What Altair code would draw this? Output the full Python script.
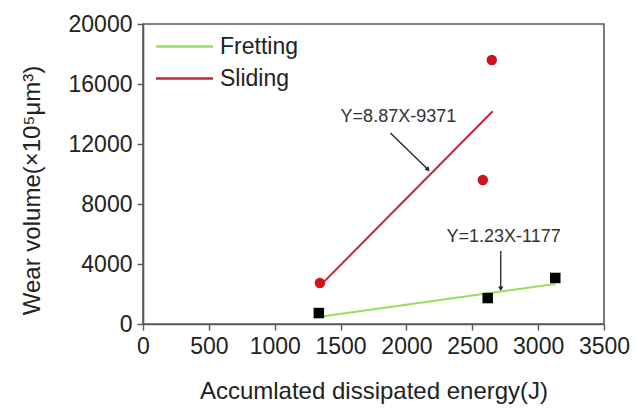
import altair as alt
import pandas as pd

# measured points
pt_series = ["Sliding", "Sliding", "Sliding", "Fretting", "Fretting", "Fretting"]
pt_energy = [1343, 2580, 2648, 1335, 2617, 3130]
pt_wear = [2730, 9600, 17600, 730, 1730, 3070]

# fitted lines (end points)
fit_series = ["Fretting", "Fretting", "Sliding", "Sliding"]
fit_energy = [1343, 3130, 1343, 2655]
fit_wear = [480, 2670, 2540, 14180]

# equation labels and arrows
eq_text = ["Y=8.87X-9371", "Y=1.23X-1177"]
eq_x = [1939, 2738]
eq_y = [13800, 5800]
arr_x1 = [1878, 2716]
arr_y1 = [12730, 4870]
arr_x2 = [2160, 2716]
arr_y2 = [10330, 2400]
arr_angle = [135, 180]

x_ticks = list(range(0, 3501, 250))
y_ticks = list(range(0, 20001, 2000))

FONT = "Liberation Sans"
TXT = "#222222"
AX = "#5a5a5a"

pts = pd.DataFrame({"series": pt_series, "energy": pt_energy, "wear": pt_wear})
fits = pd.DataFrame({"series": fit_series, "energy": fit_energy, "wear": fit_wear})
ann = pd.DataFrame({"text": eq_text, "x": eq_x, "y": eq_y})
arr = pd.DataFrame({"x1": arr_x1, "y1": arr_y1, "x2": arr_x2, "y2": arr_y2, "angle": arr_angle})

xscale = alt.Scale(domain=[0, 3500], nice=False, zero=False)
yscale = alt.Scale(domain=[0, 20000], nice=False, zero=False)

xaxis = alt.Axis(
    values=x_ticks,
    labelExpr="datum.value % 500 === 0 ? datum.label : ''",
    format="d",
    grid=False,
    tickSize={"condition": {"test": "datum.value % 500 === 0", "value": 6}, "value": 3},
    labelOverlap=False,
    labelFlush=False,
    labelPadding=5,
    titleY=67,
    titleBaseline="middle",
)
yaxis = alt.Axis(
    values=y_ticks,
    labelExpr="datum.value % 4000 === 0 ? datum.label : ''",
    format="d",
    grid=False,
    tickSize={"condition": {"test": "datum.value % 4000 === 0", "value": 6}, "value": 3},
    labelOverlap=False,
    labelFlush=False,
    labelPadding=5,
    titleX=-111,
    titleY=166,
    titleBaseline="middle",
    titleAngle=270,
)

lines = alt.Chart(fits).mark_line(strokeWidth=2).encode(
    x=alt.X("energy:Q", scale=xscale, axis=xaxis, title="Accumlated dissipated energy(J)"),
    y=alt.Y("wear:Q", scale=yscale, axis=yaxis, title="Wear volume(×10⁵μm³)"),
    color=alt.Color(
        "series:N",
        scale=alt.Scale(domain=["Fretting", "Sliding"], range=["#96e05a", "#c0283a"]),
        legend=alt.Legend(
            title=None,
            orient="none",
            legendX=26,
            legendY=7,
            symbolType="M-2,0H2",
            symbolSize=812,
            symbolStrokeWidth=2.5,
            symbolFillColor="transparent",
            labelFontSize=23,
            labelFont=FONT,
            labelColor=TXT,
            labelOffset=20,
            rowPadding=4,
        ),
    ),
    detail="series:N",
)

circles = alt.Chart(pts).transform_filter(alt.datum.series == "Sliding").mark_circle(
    size=110, color="#d0141e", opacity=1
).encode(x=alt.X("energy:Q", scale=xscale), y=alt.Y("wear:Q", scale=yscale))

squares = alt.Chart(pts).transform_filter(alt.datum.series == "Fretting").mark_square(
    size=110, color="#000000", opacity=1
).encode(x=alt.X("energy:Q", scale=xscale), y=alt.Y("wear:Q", scale=yscale))

labels = alt.Chart(ann).mark_text(
    font=FONT, fontSize=18, color="#333333", baseline="middle", align="center"
).encode(x=alt.X("x:Q", scale=xscale), y=alt.Y("y:Q", scale=yscale), text="text:N")

arrow_lines = alt.Chart(arr).mark_rule(color="#222222", strokeWidth=1.3).encode(
    x=alt.X("x1:Q", scale=xscale), y=alt.Y("y1:Q", scale=yscale), x2="x2:Q", y2="y2:Q"
)
arrow_heads = alt.Chart(arr).mark_point(
    shape="triangle", filled=True, color="#222222", size=28, opacity=1
).encode(x=alt.X("x2:Q", scale=xscale), y=alt.Y("y2:Q", scale=yscale), angle=alt.Angle("angle:Q", scale=None))

chart = (
    alt.layer(lines, circles, squares, arrow_lines, arrow_heads, labels)
    .properties(
        width=461,
        height=300,
        autosize=alt.AutoSizeParams(type="none"),
        padding={"left": 135, "top": 16, "right": 26, "bottom": 84},
        background="white",
    )
    .configure_view(stroke=AX, strokeWidth=1.6)
    .configure_axis(
        domainColor=AX,
        domainWidth=1.6,
        tickColor=AX,
        tickWidth=1.4,
        labelFont=FONT,
        labelFontSize=23,
        labelColor=TXT,
        titleFont=FONT,
        titleFontSize=24,
        titleFontWeight="normal",
        titleColor=TXT,
    )
)

chart.save("out.html", embed_options={"renderer": "svg", "actions": False})
